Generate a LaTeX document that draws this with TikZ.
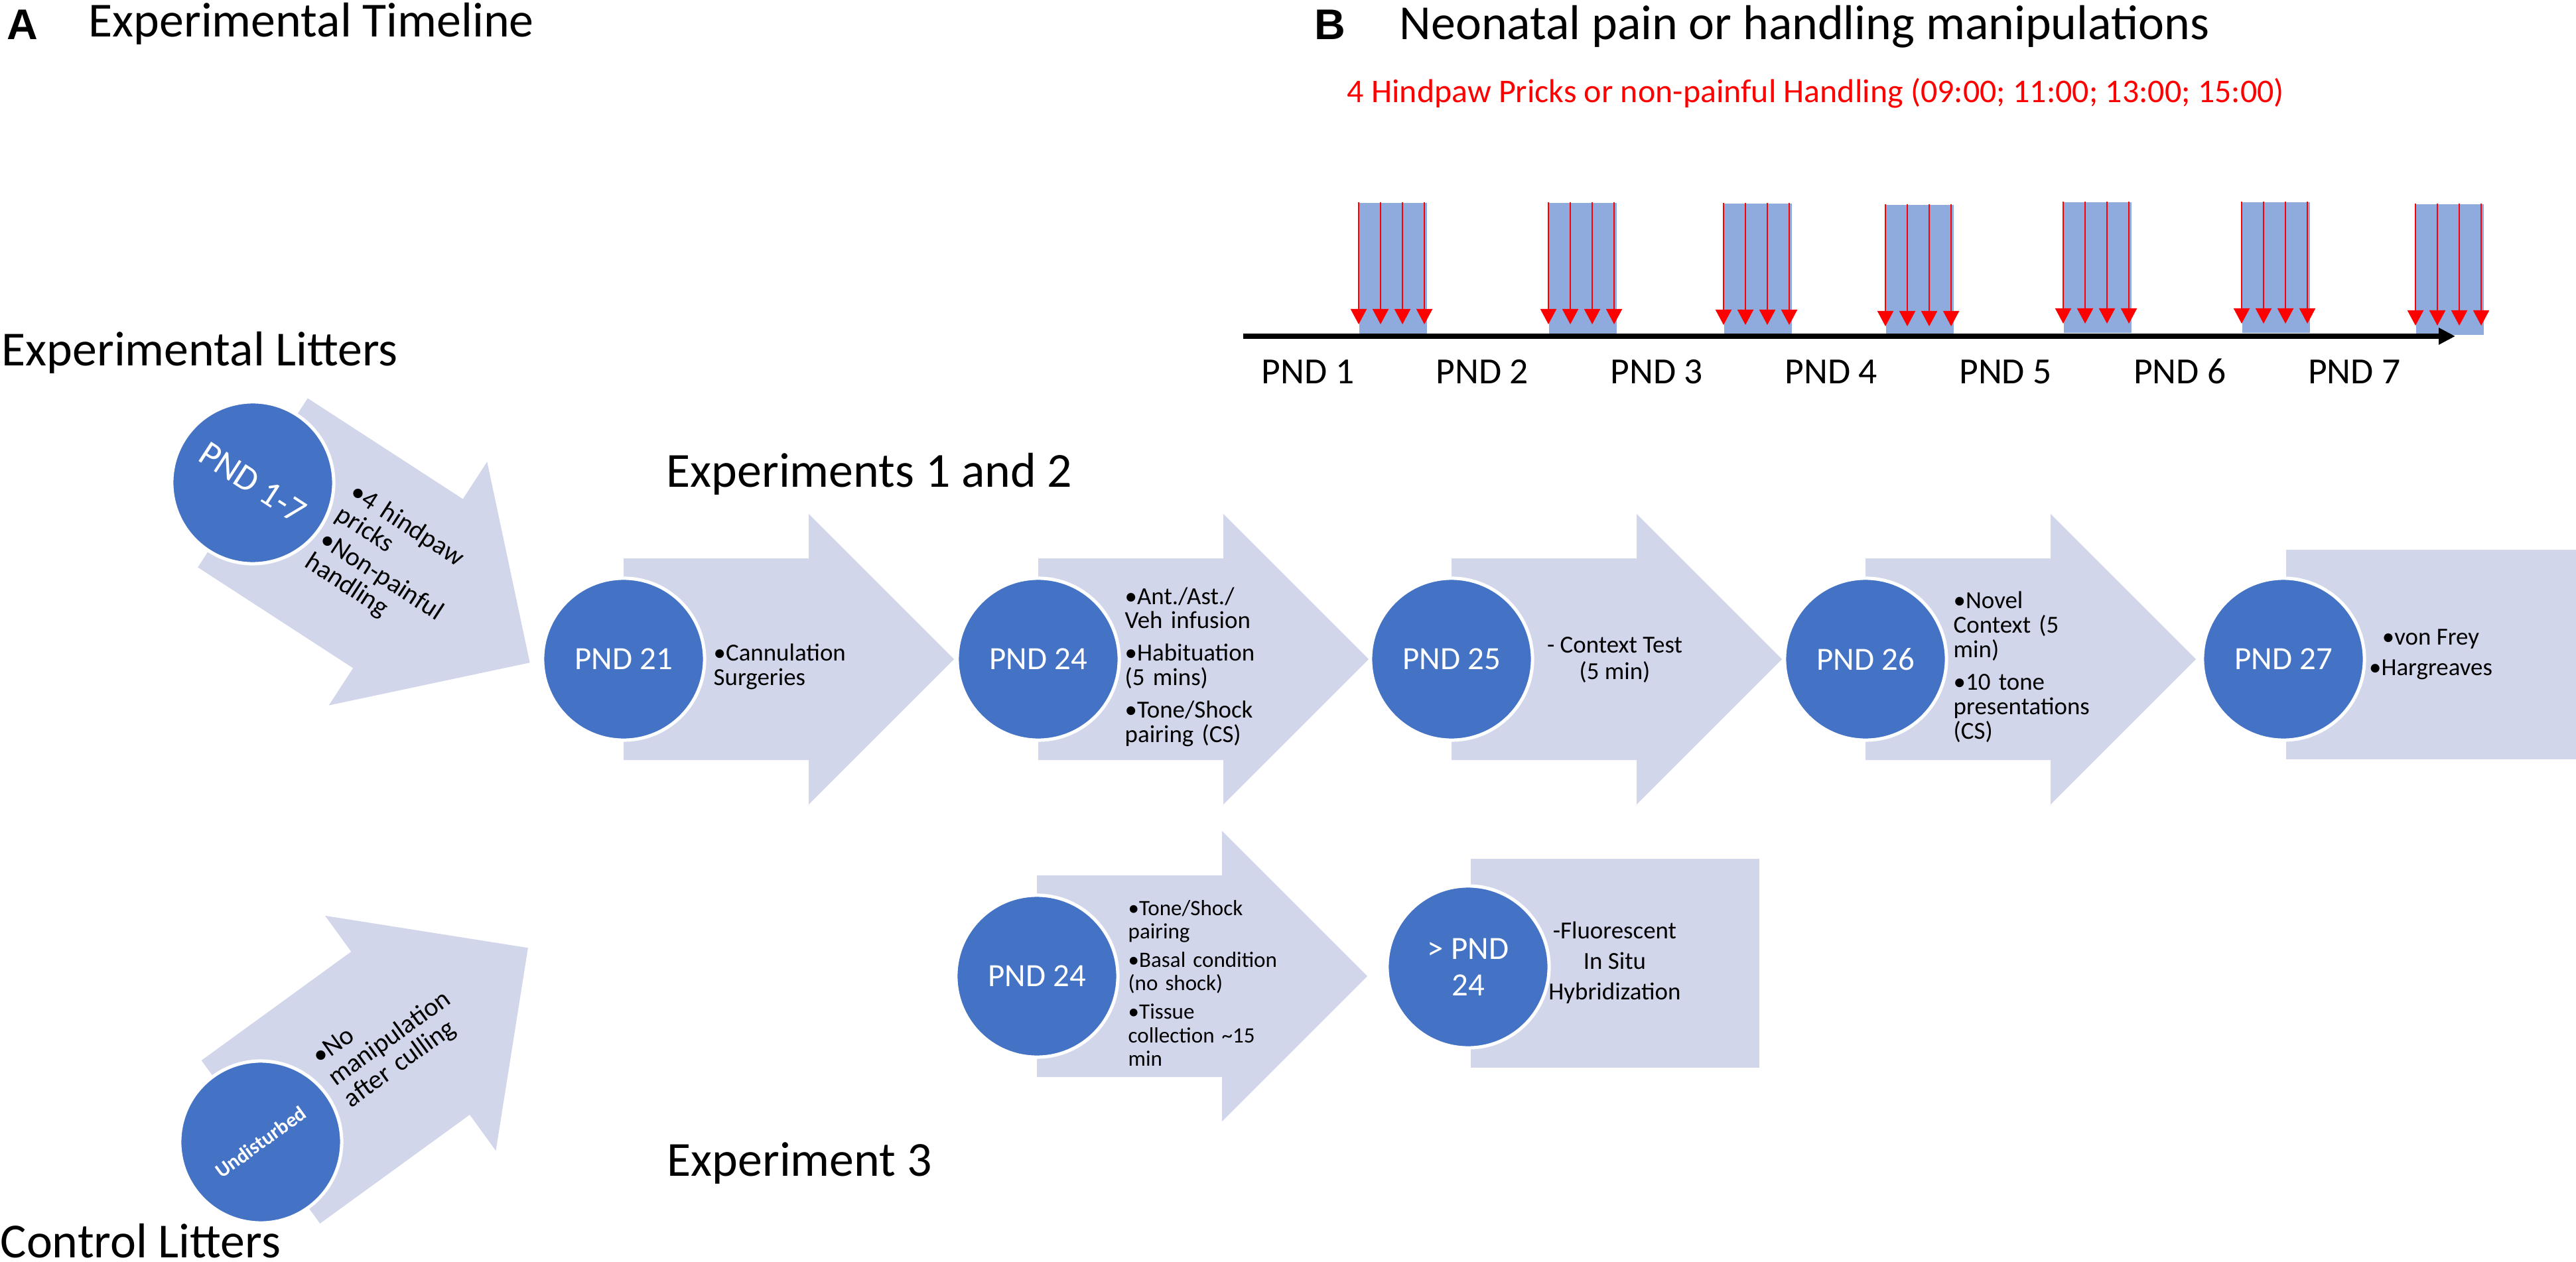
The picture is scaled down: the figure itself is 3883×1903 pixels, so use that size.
\documentclass[tikz,border=0pt]{standalone}
\usepackage{fontspec}
\setmainfont{Carlito}
\newfontfamily\arialfont{Liberation Sans}
\usetikzlibrary{arrows.meta,positioning}

\definecolor{pndblue}{RGB}{68,114,196}
\definecolor{chevfill}{RGB}{209,214,235}
\definecolor{barblue}{RGB}{143,170,220}

\newlength{\bulw}
\newcommand{\bitem}[1]{\par\settowidth{\bulw}{•}\hangindent=\bulw\hangafter=1\noindent•#1\par}

\tikzset{
  chevron/.pic={
    \fill[chevfill] (0,-152) -- (279,-152) -- (279,-219) -- (498,0)
      -- (279,219) -- (279,152) -- (0,152) -- cycle;
  },
  pnd/.style={circle, fill=pndblue, draw=white, line width=0.05cm,
    minimum size=2.44cm, inner sep=0pt, text=white, align=center,
    font=\fontsize{13.9}{15.6}\selectfont},
  title/.style={anchor=base west, inner sep=0pt,
    font=\fontsize{21}{25}\selectfont},
  panel/.style={anchor=base west, inner sep=0pt,
    font=\arialfont\bfseries\fontsize{18.4}{22}\selectfont},
  stepnote/.style={anchor=west, inner sep=0pt, text width=2.6cm, align=left,
    font=\fontsize{10.5}{10.5}\selectfont,
    execute at begin node={\setlength{\parskip}{3.4pt}}},
  smallsteps/.style={stepnote, font=\fontsize{9.4}{10}\selectfont,
    execute at begin node={\setlength{\parskip}{2.3pt}}},
  diagsteps/.style={stepnote, text width=3cm, font=\fontsize{11.4}{11.4}\selectfont,
    execute at begin node={\setlength{\parskip}{1.5pt}}},
  boxtext/.style={inner sep=0pt, align=center,
    font=\fontsize{10.5}{13.1}\selectfont},
  bar/.style={fill=barblue, minimum width=1.02cm, minimum height=1.97cm,
    inner sep=0pt, anchor=north west},
  prick/.style={red, line width=0.02cm, -{Triangle[length=0.23cm, width=0.24cm]}},
  timeaxis/.style={line width=0.07cm, -{Triangle[length=0.25cm, width=0.24cm]}},
  daylbl/.style={anchor=base west, inner sep=0pt,
    font=\fontsize{15.8}{19}\selectfont}
}

\begin{document}
\begin{tikzpicture}[x=0.01cm, y=-0.01cm]
  \useasboundingbox (0,0) rectangle (3883,1903);

  % titles
  \node[panel] (lblA) at (10,60) {A};
  \node[title] (ttlA) at (133,56) {Experimental Timeline};
  \node[panel] (lblB) at (1981,60) {B};
  \node[title] (ttlB) at (2109,60) {Neonatal pain or handling manipulations};
  \node[anchor=base west, inner sep=0pt, red,
  font=\fontsize{14.2}{17}\selectfont] (sched) at (2030,155)
  {4 Hindpaw Pricks or non-painful Handling (09:00; 11:00; 13:00; 15:00)};
  \node[title] (explit) at (2,551) {Experimental Litters};
  \node[title] (ctrllit) at (0,1896) {Control Litters};
  \node[title] (exp12) at (1004,734) {Experiments 1 and 2};
  \node[title] (exp3) at (1005,1773) {Experiment 3};

  % panel B: pricks per day
  \foreach \i/\bx/\by in {1/2048/305, 2/2334/305, 3/2598/306, 4/2842/308,
    5/3110/304, 6/3379/304, 7/3641/307} {
    \node[bar] (bar\i) at (\bx,\by) {};
    \foreach \k in {0,...,3}
      \draw[prick] ([xshift=\k*0.33cm]bar\i.north west) -- ++(0,184);
  }

  \coordinate (t0) at (1874,507);
  \coordinate (t1) at (3701,507);
  \draw[timeaxis] (t0) -- (t1);

  \foreach \d in {1,...,7}
    \node[daylbl] (day\d) at ({1901+262.9*(\d-1)},578) {PND \d};

  % experimental litters
  \begin{scope}[shift={(381,728)}, rotate=-33, transform shape]
    \pic {chevron};
    \node[pnd, font=\fontsize{15.4}{17}\selectfont] (pnd17) at (0,0) {PND 1-7};
    \node[diagsteps] (pricks) at (132,-18)
    {\bitem{4 hindpaw\\pricks}\bitem{Non-painful\\handling}};
  \end{scope}

  % control litters
  \begin{scope}[shift={(393,1722)}, rotate=36, transform shape]
    \pic {chevron};
    \node[pnd, font=\bfseries\fontsize{8.8}{10}\selectfont] (undist) at (0,0)
    {Undisturbed};
    \node[diagsteps] (nomanip) at (140,-20)
    {\bitem{No\\manipulation\\after culling}};
  \end{scope}

  % experiments 1 and 2
  \foreach \cx in {940,1565,2188,2812}
    \pic at (\cx,994) {chevron};
  \fill[chevfill] (3446,829) rectangle (3883,1145);

  \node[pnd] (p21) at (940,994) {PND 21};
  \node[pnd] (p24) at (1565,994) {PND 24};
  \node[pnd] (p25) at (2188,994) {PND 25};
  \node[pnd] (p26) at (2812,994) {PND 26};
  \node[pnd] (p27) at (3442,994) {PND 27};

  \node[stepnote] (cann) at (1075,994) {\bitem{Cannulation\\Surgeries}};
  \node[stepnote] (infus) at (1695,994)
  {\bitem{Ant./Ast./\\Veh infusion}\bitem{Habituation\\(5 mins)}%
    \bitem{Tone/Shock\\pairing (CS)}};
  \node[boxtext, font=\fontsize{10.5}{11.4}\selectfont] (ctx) at (2434,995)
  {- Context Test\\(5 min)};
  \node[stepnote] (novel) at (2944,994)
  {\bitem{Novel\\Context (5\\min)}\bitem{10 tone\\presentations\\(CS)}};
  \node[boxtext] (sens) at (3664,987) {•von Frey\\•Hargreaves};

  % experiment 3
  \pic at (1563,1472) {chevron};
  \fill[chevfill] (2217,1295) rectangle (2652,1610);

  \node[pnd] (p24b) at (1563,1472) {PND 24};
  \node[pnd] (p24c) at (2213,1458) {> PND\\24};

  \node[smallsteps] (pair) at (1700,1472)
  {\bitem{Tone/Shock\\pairing}\bitem{Basal condition\\(no shock)}%
    \bitem{Tissue\\collection \textasciitilde15\\min}};
  \node[boxtext] (fish) at (2434,1452) {-Fluorescent\\In Situ\\Hybridization};
\end{tikzpicture}
\end{document}
